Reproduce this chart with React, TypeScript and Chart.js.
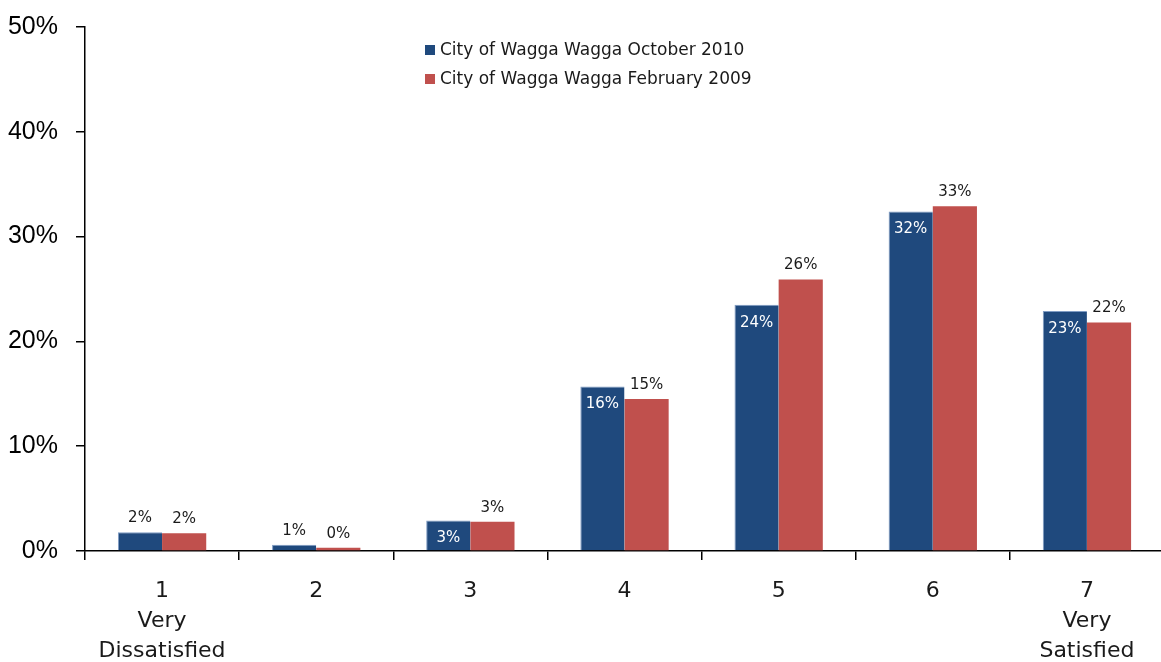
import React, { useEffect, useRef } from "react";
import { Chart, registerables } from "chart.js";

Chart.register(...registerables);

const categories: string[][] = [["1", "Very", "Dissatisfied"], ["2"], ["3"], ["4"], ["5"], ["6"], ["7", "Very", "Satisfied"]];
const seriesNames = ["City of Wagga Wagga October 2010", "City of Wagga Wagga February 2009"];
const oct2010 = [1.8, 0.6, 2.9, 15.7, 23.5, 32.4, 22.9];
const feb2009 = [1.7, 0.3, 2.8, 14.5, 25.9, 32.9, 21.8];
const oct2010Labels = ["2%", "1%", "3%", "16%", "24%", "32%", "23%"];
const feb2009Labels = ["2%", "0%", "3%", "15%", "26%", "33%", "22%"];
const yTicks = [0, 10, 20, 30, 40, 50];

const BLUE = "#1F497D";
const RED = "#C0504D";
const FONT = "'DejaVu Sans', sans-serif";

const labelPlugin = {
  id: "valueLabels",
  afterDatasetsDraw(chart: any) {
    const ctx = chart.ctx;
    ctx.save();
    ctx.font = `15px ${FONT}`;
    ctx.textAlign = "center";
    ctx.textBaseline = "middle";
    const sets = [oct2010Labels, feb2009Labels];
    chart.data.datasets.forEach((ds: any, di: number) => {
      const meta = chart.getDatasetMeta(di);
      meta.data.forEach((bar: any, i: number) => {
        const h = bar.base - bar.y;
        const inside = di === 0 && h > 25;
        if (inside) {
          ctx.fillStyle = "#ffffff";
          ctx.fillText(sets[di][i], bar.x, bar.y + 18);
        } else {
          ctx.fillStyle = "#1a1a1a";
          ctx.fillText(sets[di][i], bar.x, bar.y - 14);
        }
      });
    });
    ctx.restore();
  },
};

const legendPlugin = {
  id: "customLegend",
  afterDraw(chart: any) {
    const ctx = chart.ctx;
    ctx.save();
    ctx.font = `17px ${FONT}`;
    ctx.textBaseline = "middle";
    ctx.textAlign = "left";
    const x0 = 425;
    const ys = [50, 79];
    chart.data.datasets.forEach((ds: any, di: number) => {
      ctx.fillStyle = ds.backgroundColor;
      ctx.fillRect(x0, ys[di] - 5, 10, 10);
      ctx.fillStyle = "#1a1a1a";
      ctx.fillText(ds.label, x0 + 15, ys[di] + 1);
    });
    ctx.restore();
  },
};

export default function App() {
  const ref = useRef<HTMLCanvasElement | null>(null);
  useEffect(() => {
    document.body.style.margin = "0";
    const chart = new Chart(ref.current as HTMLCanvasElement, {
      type: "bar",
      data: {
        labels: categories,
        datasets: [
          { label: seriesNames[0], data: oct2010, backgroundColor: BLUE, borderColor: "#7f9cc4", borderWidth: { top: 1, left: 1, right: 0, bottom: 0 } as any },
          { label: seriesNames[1], data: feb2009, backgroundColor: RED, borderWidth: 0 },
        ],
      },
      options: {
        animation: false,
        responsive: false,
        maintainAspectRatio: false,
        layout: { padding: { top: 27, right: 0, left: 0, bottom: 0 } },
        datasets: { bar: { categoryPercentage: 0.573, barPercentage: 1 } },
        plugins: { legend: { display: false }, tooltip: { enabled: false } },
        scales: {
          x: {
            afterFit: (s: any) => { s.height = 111; s.paddingRight = 0; s.paddingLeft = 0; },
            border: { display: true, color: "#000", width: 1.5 },
            grid: { display: true, offset: true, drawOnChartArea: false, drawTicks: true, tickLength: 9, color: "#000", lineWidth: 1.5 },
            ticks: { color: "#1a1a1a", padding: 16, font: { family: "'DejaVu Sans', sans-serif", size: 22, lineHeight: 1.36 } },
          },
          y: {
            min: 0,
            max: 50,
            afterFit: (s: any) => { s.width = 85; s.paddingTop = 0; s.paddingBottom = 0; },
            afterBuildTicks: (s: any) => { s.ticks = yTicks.map((v) => ({ value: v })); },
            border: { display: true, color: "#000", width: 1.5 },
            grid: { display: true, drawOnChartArea: false, drawTicks: true, tickLength: 9, color: "#000", lineWidth: 1.5 },
            ticks: { color: "#000", padding: 18, font: { family: "'Liberation Sans', sans-serif", size: 25 }, callback: (v: any) => `${v}%` },
          },
        },
      },
      plugins: [labelPlugin, legendPlugin],
    });
    return () => chart.destroy();
  }, []);
  return (
    <div style={{ position: "absolute", left: 0, top: 0, width: 1161, height: 662, overflow: "hidden" }}>
      <canvas ref={ref} width={1164} height={662} style={{ width: 1164, height: 662, display: "block" }} />
    </div>
  );
}
